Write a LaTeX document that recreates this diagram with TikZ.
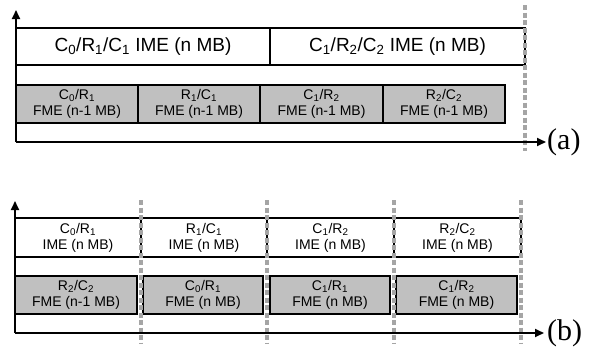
\documentclass[tikz,border=0pt]{standalone}
\usepackage{fontspec}
\setmainfont{Liberation Sans}
\newfontfamily\serifx{Liberation Serif}
\usetikzlibrary{arrows.meta}
\definecolor{fmegray}{RGB}{192,192,192}
\definecolor{dotgray}{RGB}{165,165,165}
\tikzset{
  axisline/.style={line width=1.8pt, -{Triangle[length=9pt,width=8pt]}},
  slotbox/.style={draw=black, line width=1.8pt, rectangle, inner sep=0pt, align=center},
  imebig/.style={slotbox, fill=white, font=\fontsize{19}{22}\selectfont},
  imesmall/.style={slotbox, fill=white, font=\fontsize{14}{16}\selectfont},
  fmebox/.style={slotbox, fill=fmegray, font=\fontsize{14}{16}\selectfont},
  divider/.style={draw=dotgray, line width=3.6pt, dash pattern=on 5pt off 2.5pt},
  partlabel/.style={font=\serifx\fontsize{30}{32}\selectfont, inner sep=0pt, anchor=west}
}
\newcommand{\sub}[1]{\textsubscript{#1}}
\begin{document}
\begin{tikzpicture}[x=1pt,y=-1pt]
\useasboundingbox (0,0) rectangle (592,349);
% ---------- (a) ----------
\coordinate (ao) at (16,142);
\coordinate (atop) at (16,10);
\coordinate (aend) at (546,142);
\coordinate (adt) at (525,5);
\coordinate (adb) at (525,151);
\node[imebig, minimum width=254pt, minimum height=37pt] (aime1) at (143,46.5) {C\sub{0}/R\sub{1}/C\sub{1} IME (n MB)};
\node[imebig, minimum width=255pt, minimum height=37pt] (aime2) at (397.5,46.5) {C\sub{1}/R\sub{2}/C\sub{2} IME (n MB)};
\node[fmebox, minimum width=122pt, minimum height=38pt] (afme1) at (77,104) {C\sub{0}/R\sub{1}\\FME (n-1 MB)};
\node[fmebox, minimum width=122pt, minimum height=38pt] (afme2) at (199,104) {R\sub{1}/C\sub{1}\\FME (n-1 MB)};
\node[fmebox, minimum width=123pt, minimum height=38pt] (afme3) at (321.5,104) {C\sub{1}/R\sub{2}\\FME (n-1 MB)};
\node[fmebox, minimum width=122pt, minimum height=38pt] (afme4) at (444,104) {R\sub{2}/C\sub{2}\\FME (n-1 MB)};
\draw[divider] (adt) -- (adb);
\draw[axisline] (ao) -- (atop);
\draw[axisline] (ao) -- (aend);
\node[partlabel] (alab) at (547,142) {(a)};
% ---------- (b) ----------
\coordinate (bo) at (15,333);
\coordinate (btop) at (15,201);
\coordinate (bend) at (544,333);
\node[imesmall, minimum width=126pt, minimum height=39pt] (bime1) at (78,237.5) {C\sub{0}/R\sub{1}\\IME (n MB)};
\node[imesmall, minimum width=126pt, minimum height=39pt] (bime2) at (204,237.5) {R\sub{1}/C\sub{1}\\IME (n MB)};
\node[imesmall, minimum width=127pt, minimum height=39pt] (bime3) at (330.5,237.5) {C\sub{1}/R\sub{2}\\IME (n MB)};
\node[imesmall, minimum width=127pt, minimum height=39pt] (bime4) at (457.5,237.5) {R\sub{2}/C\sub{2}\\IME (n MB)};
\node[fmebox, minimum width=122pt, minimum height=38pt] (bfme1) at (76,295) {R\sub{2}/C\sub{2}\\FME (n-1 MB)};
\node[fmebox, minimum width=120pt, minimum height=38pt] (bfme2) at (203,295) {C\sub{0}/R\sub{1}\\FME (n MB)};
\node[fmebox, minimum width=120pt, minimum height=38pt] (bfme3) at (330,295) {C\sub{1}/R\sub{1}\\FME (n MB)};
\node[fmebox, minimum width=121pt, minimum height=38pt] (bfme4) at (456.5,295) {C\sub{1}/R\sub{2}\\FME (n MB)};
\foreach \xx/\nm in {141/b1,267/b2,394/b3,521/b4}{
  \coordinate (\nm t) at (\xx,200);
  \coordinate (\nm b) at (\xx,343);
  \draw[divider] (\nm t) -- (\nm b);
}
\draw[axisline] (bo) -- (btop);
\draw[axisline] (bo) -- (bend);
\node[partlabel] (blab) at (547,333) {(b)};
\end{tikzpicture}
\end{document}
